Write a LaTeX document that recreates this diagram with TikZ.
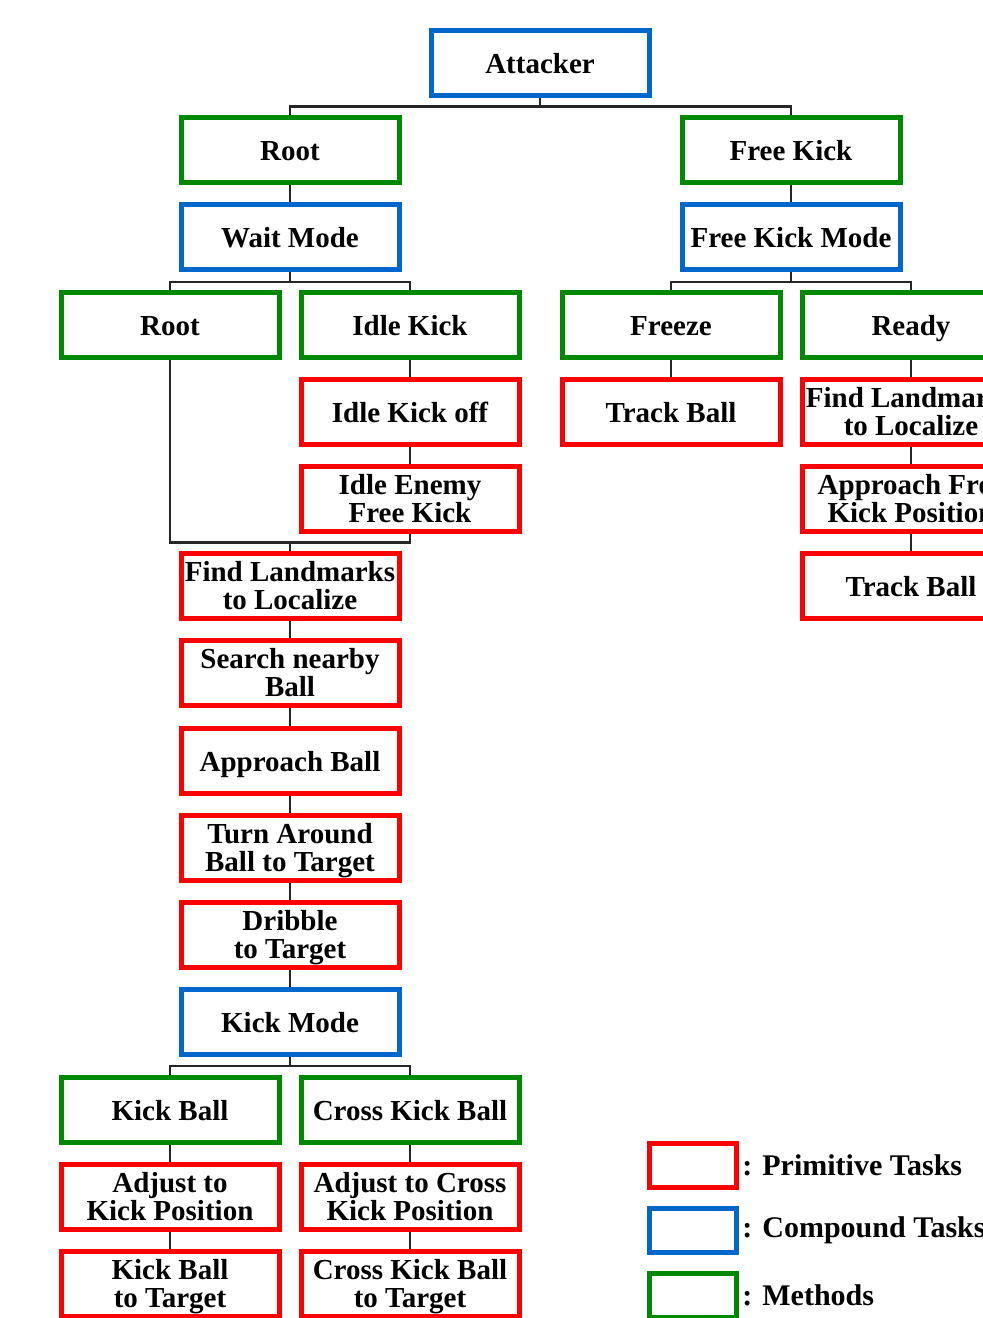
\documentclass[tikz,border=0pt]{standalone}
\usepackage{fontspec}
\setmainfont{Liberation Serif}
\usetikzlibrary{positioning}

\definecolor{primred}{RGB}{255,0,0}
\definecolor{compblue}{RGB}{0,102,204}
\definecolor{methgreen}{RGB}{0,136,0}

\tikzset{
  task/.style={rectangle, draw, line width=2.5pt, fill=white, align=center,
    minimum width=109pt, minimum height=32.5pt, inner sep=0pt,
    font=\fontsize{14.5}{14}\selectfont\bfseries,
    execute at end node=\rule[-3.2pt]{0pt}{3.2pt}},
  oneline/.style={execute at begin node=\rule{0pt}{13.2pt}},
  twoline/.style={execute at begin node=\rule{0pt}{27pt}},
  prim/.style={task, draw=primred},
  comp/.style={task, draw=compblue},
  meth/.style={task, draw=methgreen},
  key/.style={rectangle, draw, line width=2.5pt, minimum width=43.5pt, minimum height=22pt},
  keytext/.style={anchor=west, inner sep=0pt, font=\fontsize{15}{15}\selectfont\bfseries},
  link/.style={line width=1.3pt, black!85}
}

\begin{document}
\begin{tikzpicture}[x=0.5pt, y=-0.5pt]
\useasboundingbox (0,0) rectangle (983,1318);

\node[comp, oneline] (A)   at (540,63)   {Attacker};
\node[meth, oneline] (R1)  at (290,150)  {Root};
\node[meth, oneline] (FK)  at (791,150)  {Free Kick};
\node[comp, oneline] (WM)  at (290,237)  {Wait Mode};
\node[comp, oneline] (FKM) at (791,237)  {Free Kick Mode};

\node[meth, oneline] (R2)  at (170,325)  {Root};
\node[meth, oneline] (IK)  at (410,325)  {Idle Kick};
\node[meth, oneline] (FZ)  at (671,325)  {Freeze};
\node[meth, oneline] (RD)  at (911,325)  {Ready};

\node[prim, oneline] (IKO) at (410,412)  {Idle Kick off};
\node[prim, twoline] (IE)  at (410,499)  {Idle Enemy\\Free Kick};
\node[prim, oneline] (TB1) at (671,412)  {Track Ball};
\node[prim, twoline] (FL2) at (911,412)  {Find Landmarks\\to Localize};
\node[prim, twoline] (AF)  at (911,499)  {Approach Free\\Kick Position};
\node[prim, oneline] (TB2) at (911,586)  {Track Ball};

\node[prim, twoline] (FL)  at (290,586)  {Find Landmarks\\to Localize};
\node[prim, twoline] (SB)  at (290,673)  {Search nearby\\Ball};
\node[prim, oneline] (AB)  at (290,761)  {Approach Ball};
\node[prim, twoline] (TA)  at (290,848)  {Turn Around\\Ball to Target};
\node[prim, twoline] (DT)  at (290,935)  {Dribble\\to Target};
\node[comp, oneline] (KM)  at (290,1022) {Kick Mode};

\node[meth, oneline] (KB)  at (170,1110) {Kick Ball};
\node[meth, oneline] (CKB) at (410,1110) {Cross Kick Ball};
\node[prim, twoline] (AK)  at (170,1197) {Adjust to\\Kick Position};
\node[prim, twoline] (ACK) at (410,1197) {Adjust to Cross\\Kick Position};
\node[prim, twoline] (KT)  at (170,1284) {Kick Ball\\to Target};
\node[prim, twoline] (CKT) at (410,1284) {Cross Kick Ball\\to Target};

% junctions
\coordinate (j0) at (540,106.5);
\coordinate (j1) at (290,282);
\coordinate (j2) at (791,282);
\coordinate (j3) at (290,542.5);
\coordinate (j4) at (290,1066);

\draw[link] (A.south) -- (j0);
\draw[link] (R1.north) |- (j0) -| (FK.north);
\draw[link] (R1) -- (WM);
\draw[link] (FK) -- (FKM);
\draw[link] (WM.south) -- (j1);
\draw[link] (R2.north) |- (j1) -| (IK.north);
\draw[link] (FKM.south) -- (j2);
\draw[link] (FZ.north) |- (j2) -| (RD.north);
\draw[link] (IK) -- (IKO);
\draw[link] (IKO) -- (IE);
\draw[link] (FZ) -- (TB1);
\draw[link] (RD) -- (FL2);
\draw[link] (FL2) -- (AF);
\draw[link] (AF) -- (TB2);
\draw[link] (R2.south) |- (j3) -| (IE.south);
\draw[link] (j3) -- (FL.north);
\draw[link] (FL) -- (SB);
\draw[link] (SB) -- (AB);
\draw[link] (AB) -- (TA);
\draw[link] (TA) -- (DT);
\draw[link] (DT) -- (KM);
\draw[link] (KM.south) -- (j4);
\draw[link] (KB.north) |- (j4) -| (CKB.north);
\draw[link] (KB) -- (AK);
\draw[link] (AK) -- (KT);
\draw[link] (CKB) -- (ACK);
\draw[link] (ACK) -- (CKT);

% legend
\node[key, draw=primred]   (KP) at (693,1165) {};
\node[key, draw=compblue]  (KC) at (693,1230) {};
\node[key, draw=methgreen] (KG) at (693,1295) {};
\node[keytext] (TP) at (742,1165) {: Primitive Tasks};
\node[keytext] (TC) at (742,1230) {: Compound Tasks};
\node[keytext] (TG) at (742,1295) {: Methods};
\end{tikzpicture}
\end{document}
